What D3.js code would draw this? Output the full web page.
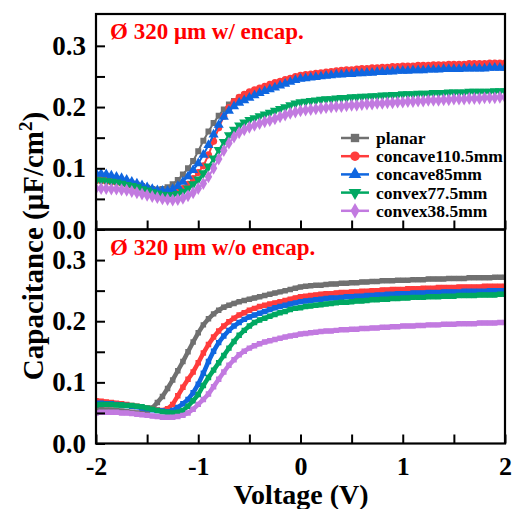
<!DOCTYPE html>
<html><head><meta charset="utf-8">
<script src="https://cdn.jsdelivr.net/npm/d3@7"></script>
<style>
html,body{margin:0;padding:0;background:#fff;}
svg{display:block;}
text{font-family:"Liberation Serif","Times New Roman",serif;font-weight:bold;}
</style></head>
<body>
<script>
const voltage = [-2,-1.95,-1.9,-1.85,-1.8,-1.75,-1.7,-1.65,-1.6,-1.55,-1.5,-1.45,-1.4,-1.35,-1.3,-1.25,-1.2,-1.15,-1.1,-1.05,-1,-0.95,-0.9,-0.85,-0.8,-0.75,-0.7,-0.65,-0.6,-0.55,-0.5,-0.45,-0.4,-0.35,-0.3,-0.25,-0.2,-0.15,-0.1,-0.05,0,0.05,0.1,0.15,0.2,0.25,0.3,0.35,0.4,0.45,0.5,0.55,0.6,0.65,0.7,0.75,0.8,0.85,0.9,0.95,1,1.05,1.1,1.15,1.2,1.25,1.3,1.35,1.4,1.45,1.5,1.55,1.6,1.65,1.7,1.75,1.8,1.85,1.9,1.95,2];

const seriesNames = ["planar","concave110.5mm","concave85mm","convex77.5mm","convex38.5mm"];

// Top panel: with encapsulation
const topPlanar = [0.085,0.084,0.083,0.082,0.080,0.079,0.077,0.075,0.073,0.071,0.068,0.066,0.065,0.066,0.069,0.074,0.081,0.090,0.100,0.112,
0.128,0.145,0.160,0.174,0.186,0.196,0.204,0.210,0.215,0.219,0.222,0.225,0.228,0.231,0.234,0.237,0.239,0.242,0.244,0.246,
0.248,0.249,0.250,0.251,0.252,0.253,0.254,0.255,0.256,0.257,0.257,0.258,0.258,0.259,0.259,0.260,0.260,0.261,0.261,0.262,
0.262,0.262,0.263,0.263,0.263,0.264,0.264,0.264,0.265,0.265,0.265,0.265,0.266,0.266,0.266,0.266,0.267,0.267,0.267,0.267,0.267];
const topConcave110 = [0.080,0.080,0.079,0.078,0.077,0.076,0.074,0.072,0.070,0.068,0.065,0.063,0.061,0.059,0.058,0.059,0.062,0.067,0.074,0.083,
0.093,0.104,0.122,0.144,0.166,0.185,0.199,0.209,0.216,0.221,0.225,0.228,0.231,0.234,0.237,0.240,0.242,0.245,0.247,0.250,
0.252,0.253,0.254,0.255,0.256,0.257,0.258,0.259,0.260,0.261,0.261,0.262,0.263,0.263,0.264,0.264,0.265,0.265,0.266,0.266,
0.267,0.267,0.267,0.268,0.268,0.268,0.269,0.269,0.269,0.270,0.270,0.270,0.270,0.271,0.271,0.271,0.271,0.272,0.272,0.272,0.272];
const topConcave85 = [0.092,0.091,0.090,0.088,0.086,0.084,0.081,0.078,0.075,0.072,0.069,0.066,0.064,0.063,0.063,0.066,0.071,0.078,0.087,0.097,
0.108,0.122,0.138,0.155,0.171,0.184,0.194,0.201,0.207,0.211,0.215,0.219,0.223,0.226,0.229,0.232,0.235,0.238,0.241,0.244,
0.246,0.247,0.248,0.249,0.250,0.251,0.252,0.253,0.253,0.254,0.254,0.255,0.255,0.256,0.256,0.257,0.257,0.258,0.258,0.259,
0.259,0.259,0.260,0.260,0.260,0.261,0.261,0.261,0.262,0.262,0.262,0.262,0.263,0.263,0.263,0.263,0.263,0.264,0.264,0.264,0.264];
const topConvex77 = [0.080,0.080,0.079,0.078,0.077,0.075,0.073,0.071,0.069,0.066,0.064,0.061,0.059,0.057,0.056,0.056,0.058,0.062,0.067,0.074,
0.082,0.092,0.103,0.116,0.130,0.143,0.154,0.163,0.170,0.175,0.179,0.182,0.185,0.188,0.191,0.194,0.197,0.200,0.203,0.206,
0.208,0.209,0.210,0.211,0.212,0.213,0.213,0.214,0.215,0.215,0.216,0.216,0.217,0.217,0.218,0.218,0.219,0.219,0.220,0.220,
0.221,0.221,0.221,0.222,0.222,0.222,0.223,0.223,0.223,0.224,0.224,0.224,0.224,0.225,0.225,0.225,0.225,0.225,0.226,0.226,0.226];
const topConvex38 = [0.067,0.067,0.067,0.066,0.066,0.065,0.064,0.062,0.060,0.058,0.056,0.054,0.052,0.050,0.049,0.048,0.049,0.051,0.055,0.060,
0.067,0.075,0.086,0.100,0.115,0.129,0.141,0.151,0.158,0.163,0.167,0.170,0.173,0.176,0.178,0.181,0.184,0.187,0.190,0.192,
0.194,0.195,0.196,0.197,0.198,0.199,0.200,0.201,0.201,0.202,0.203,0.203,0.204,0.205,0.205,0.206,0.206,0.207,0.207,0.208,
0.208,0.209,0.209,0.210,0.210,0.211,0.211,0.211,0.212,0.212,0.213,0.213,0.213,0.214,0.214,0.214,0.215,0.215,0.215,0.216,0.216];

// Bottom panel: without encapsulation
const botPlanar = [0.056,0.056,0.055,0.055,0.054,0.053,0.052,0.051,0.050,0.050,0.052,0.058,0.067,0.077,0.090,0.104,0.119,0.134,0.150,0.166,
0.181,0.194,0.204,0.212,0.218,0.223,0.226,0.229,0.232,0.234,0.236,0.238,0.240,0.242,0.244,0.246,0.248,0.250,0.252,0.254,
0.256,0.257,0.258,0.259,0.259,0.260,0.261,0.261,0.262,0.262,0.263,0.263,0.264,0.264,0.265,0.265,0.266,0.266,0.266,0.267,
0.267,0.267,0.268,0.268,0.268,0.269,0.269,0.269,0.269,0.270,0.270,0.270,0.270,0.271,0.271,0.271,0.271,0.271,0.272,0.272,0.272];
const botConcave110 = [0.070,0.069,0.068,0.067,0.066,0.065,0.064,0.062,0.061,0.059,0.058,0.056,0.055,0.054,0.057,0.064,0.078,0.092,0.105,0.117,
0.132,0.148,0.162,0.174,0.184,0.192,0.199,0.205,0.210,0.214,0.218,0.221,0.224,0.226,0.228,0.230,0.232,0.234,0.236,0.238,
0.240,0.241,0.242,0.243,0.244,0.245,0.245,0.246,0.247,0.247,0.248,0.248,0.249,0.249,0.250,0.250,0.251,0.251,0.252,0.252,
0.252,0.253,0.253,0.253,0.254,0.254,0.254,0.255,0.255,0.255,0.255,0.256,0.256,0.256,0.256,0.256,0.257,0.257,0.257,0.257,0.257];
const botConcave85 = [0.066,0.066,0.065,0.065,0.064,0.063,0.062,0.061,0.060,0.058,0.057,0.055,0.054,0.053,0.052,0.054,0.059,0.065,0.072,0.083,
0.097,0.115,0.134,0.151,0.165,0.176,0.185,0.192,0.198,0.203,0.207,0.210,0.213,0.216,0.219,0.222,0.224,0.226,0.228,0.230,
0.232,0.233,0.234,0.235,0.236,0.237,0.238,0.238,0.239,0.240,0.240,0.241,0.241,0.242,0.242,0.243,0.243,0.244,0.244,0.245,
0.245,0.245,0.246,0.246,0.246,0.247,0.247,0.247,0.248,0.248,0.248,0.248,0.249,0.249,0.249,0.249,0.249,0.250,0.250,0.250,0.250];
const botConvex77 = [0.063,0.064,0.064,0.064,0.063,0.063,0.062,0.062,0.061,0.060,0.058,0.056,0.054,0.052,0.051,0.050,0.051,0.054,0.061,0.070,
0.080,0.095,0.108,0.120,0.132,0.144,0.156,0.167,0.177,0.185,0.192,0.198,0.202,0.205,0.208,0.211,0.214,0.216,0.219,0.221,
0.222,0.224,0.225,0.226,0.227,0.228,0.229,0.230,0.231,0.231,0.232,0.233,0.233,0.234,0.235,0.235,0.236,0.236,0.237,0.237,
0.238,0.238,0.239,0.239,0.239,0.240,0.240,0.240,0.241,0.241,0.241,0.242,0.242,0.242,0.242,0.243,0.243,0.243,0.243,0.244,0.244];
const botConvex38 = [0.050,0.051,0.051,0.051,0.051,0.050,0.050,0.049,0.048,0.047,0.046,0.045,0.044,0.043,0.043,0.043,0.044,0.046,0.050,0.056,
0.064,0.072,0.081,0.093,0.105,0.117,0.128,0.137,0.145,0.151,0.156,0.160,0.163,0.166,0.168,0.170,0.172,0.174,0.176,0.177,
0.179,0.180,0.181,0.182,0.183,0.184,0.184,0.185,0.186,0.186,0.187,0.187,0.188,0.188,0.189,0.189,0.190,0.190,0.191,0.191,
0.192,0.192,0.192,0.193,0.193,0.194,0.194,0.194,0.195,0.195,0.195,0.196,0.196,0.196,0.196,0.197,0.197,0.197,0.197,0.198,0.198];

const xMajorTicks = [-2,-1,0,1,2];
const xMinorTicks = [-1.5,-0.5,0.5,1.5];
const yMajorTicks = [0,0.1,0.2,0.3];
const yMinorTicks = [0.05,0.15,0.25];
const topLabel = "Ø 320 μm w/ encap.";
const botLabel = "Ø 320 μm w/o encap.";

const colors = ["#707070","#ff3c3c","#0f66e0","#00a862","#c27ae0"];
const shapes = ["square","circle","triUp","triDown","diamond"];

const W = 513, H = 509;
const L = 96, R = 505;
const svg = d3.select("body").append("svg").attr("width", W).attr("height", H);

const x = d3.scaleLinear().domain([-2, 2]).range([L, R]);
const yTop = d3.scaleLinear().domain([0, 0.352]).range([229.5, 14]);
const yBot = d3.scaleLinear().domain([0, 0.35]).range([443.5, 229.5]);

function symPath(shape, size) {
  const t = {square: d3.symbolSquare, circle: d3.symbolCircle, triUp: d3.symbolTriangle,
             triDown: d3.symbolTriangle, diamond: d3.symbolDiamond}[shape];
  return d3.symbol().type(t).size(size)();
}

function drawPanel(y, data, opts) {
  const g = svg.append("g");
  const clipId = "clip" + opts.id;
  svg.append("clipPath").attr("id", clipId).append("rect")
    .attr("x", L).attr("y", y.range()[1]).attr("width", R - L).attr("height", y.range()[0] - y.range()[1]);
  const plot = g.append("g").attr("clip-path", `url(#${clipId})`);
  data.forEach((vals, si) => {
    const pts = voltage.map((v, i) => [v, vals[i]]);
    const line = d3.line().x(d => x(d[0])).y(d => y(d[1]));
    plot.append("path").attr("d", line(pts)).attr("fill", "none")
      .attr("stroke", colors[si]).attr("stroke-width", opts.lw);
    plot.selectAll(null).data(pts).enter().append("path")
      .attr("d", symPath(opts.markers ? shapes[si] : "square", opts.markers ? opts.msize[si] : opts.bsize))
      .attr("transform", d => `translate(${x(d[0])},${y(d[1])})` + (opts.markers && shapes[si] === "triDown" ? " rotate(180)" : ""))
      .attr("fill", colors[si]);
  });
  // y ticks
  const yAx = g.append("g").attr("transform", `translate(${L},0)`)
    .call(d3.axisLeft(y).tickValues(yMajorTicks).tickSizeInner(-9).tickSizeOuter(0).tickPadding(10).tickFormat(d3.format(".1f")));
  yAx.select(".domain").remove();
  yAx.selectAll("line").attr("stroke", "#000").attr("stroke-width", 2);
  yAx.selectAll("text").attr("font-size", 27).attr("fill", "#000")
    .style("font-family", '"Liberation Serif","Times New Roman",serif').style("font-weight", "bold");
  const yMin = g.append("g").attr("transform", `translate(${L},0)`)
    .call(d3.axisLeft(y).tickValues(yMinorTicks).tickSizeInner(-9).tickSizeOuter(0).tickFormat(""));
  yMin.select(".domain").remove();
  yMin.selectAll("line").attr("stroke", "#000").attr("stroke-width", 2);
  // x ticks
  const y0 = y.range()[0];
  const xAx = g.append("g").attr("transform", `translate(0,${y0})`)
    .call(d3.axisBottom(x).tickValues(xMajorTicks.concat(xMinorTicks)).tickSizeInner(-9).tickSizeOuter(0).tickFormat(""));
  xAx.select(".domain").remove();
  xAx.selectAll("line").attr("stroke", "#000").attr("stroke-width", 2);
  // frame
  g.append("rect").attr("x", L).attr("y", y.range()[1]).attr("width", R - L)
    .attr("height", y.range()[0] - y.range()[1]).attr("fill", "none").attr("stroke", "#000").attr("stroke-width", 2.2);
  // label
  g.append("text").attr("x", 110).attr("y", opts.labelY).attr("fill", "#ff0000").attr("font-size", 23).text(opts.label);
}

drawPanel(yTop, [topPlanar, topConcave110, topConcave85, topConvex77, topConvex38],
  {id: "t", lw: 2, markers: true, msize: [36, 40, 44, 44, 48], label: topLabel, labelY: 39});
drawPanel(yBot, [botPlanar, botConcave110, botConcave85, botConvex77, botConvex38],
  {id: "b", lw: 4.5, markers: false, bsize: 30, label: botLabel, labelY: 255});

// bottom x tick labels
const xLab = svg.append("g").attr("transform", `translate(0,443.5)`)
  .call(d3.axisBottom(x).tickValues(xMajorTicks).tickSize(0).tickPadding(13).tickFormat(d => String(d)));
xLab.select(".domain").remove();
xLab.selectAll("text").attr("font-size", 26).attr("fill", "#000")
  .style("font-family", '"Liberation Serif","Times New Roman",serif').style("font-weight", "bold");

// axis titles
svg.append("text").attr("x", 301).attr("y", 504).attr("text-anchor", "middle").attr("font-size", 28).text("Voltage (V)");
const yt = svg.append("text").attr("transform", "translate(43,246) rotate(-90)").attr("text-anchor", "middle").attr("font-size", 29);
yt.append("tspan").text("Capacitance (μF/cm");
yt.append("tspan").attr("font-size", 19).attr("dy", -11).text("2");
yt.append("tspan").attr("dy", 11).text(")");

// legend
const leg = svg.append("g");
seriesNames.forEach((name, i) => {
  const cy = 138 + i * 18.2;
  leg.append("line").attr("x1", 341).attr("x2", 369).attr("y1", cy).attr("y2", cy)
    .attr("stroke", colors[i]).attr("stroke-width", 2.5);
  leg.append("path").attr("d", symPath(shapes[i], 70))
    .attr("transform", `translate(355,${cy})` + (shapes[i] === "triDown" ? " rotate(180)" : ""))
    .attr("fill", colors[i]);
  leg.append("text").attr("x", 376).attr("y", cy + 6).attr("font-size", 17.5).attr("fill", "#000").text(name);
});
</script>
</body></html>
